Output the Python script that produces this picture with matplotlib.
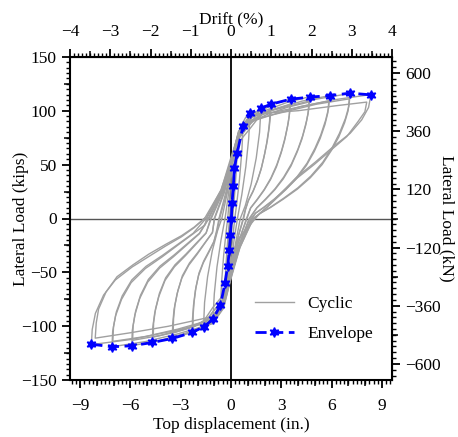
import numpy as np
import matplotlib
matplotlib.use("Agg")
import matplotlib.pyplot as plt
from matplotlib.ticker import MultipleLocator, FixedLocator, NullFormatter

plt.rcParams['font.family'] = ['Liberation Serif', 'DejaVu Serif']

# envelope (in., kips)
env_x = [-8.33, -7.1, -5.92, -4.69, -3.5, -2.31, -1.64, -1.08, -0.63, -0.36, -0.2, -0.1, -0.04,
         0.02, 0.06, 0.14, 0.2, 0.36, 0.72, 1.14, 1.78, 2.37, 3.55, 4.69, 5.88, 7.1, 8.34]
env_y = [-116.6, -119, -118.1, -115, -111.3, -105.7, -100.5, -93.6, -80.3, -59.6, -44, -29.3, -15.3,
         0, 14.7, 30.2, 46.6, 60.5, 86, 97.7, 102.3, 106, 110.7, 112.6, 114, 116.3, 114.7]

# cyclic loops, one list per cycle
c01_x = [0, 0.1, 0.2, 0.16, 0.1, 0.04, -0.05, -0.12, -0.2, -0.15, -0.09, -0.04]
c01_y = [0, 25, 47, 30, 14, 0, -15, -30, -44, -28, -12, 0]
c02_x = [-0.04, 0.04, 0.14, 0.25, 0.36, 0.3, 0.2, 0.09, 0.0, -0.1, -0.22, -0.36, -0.3, -0.2, -0.09]
c02_y = [0, 17, 34, 48, 60, 42, 20, 0, -18, -33, -48, -60, -42, -20, 0]
c03_x = [-0.09, -0.02, 0.08, 0.2, 0.38, 0.55, 0.72, 0.64, 0.5, 0.34, 0.22,
         0.1, -0.02, -0.15, -0.32, -0.48, -0.63, -0.56, -0.44, -0.3, -0.2]
c03_y = [0, 18, 36, 52, 68, 79, 86, 62, 36, 14, 0,
         -18, -36, -52, -66, -75, -80, -58, -34, -13, 0]
c04_x = [-0.2, -0.09, 0.02, 0.15, 0.35, 0.6, 0.88, 1.14, 1.05, 0.88, 0.64, 0.38,
         0.18, 0.02, -0.14, -0.35, -0.6, -0.85, -1.08, -1.0, -0.84, -0.6, -0.36]
c04_y = [0, 20, 40, 58, 74, 86, 94, 98, 74, 48, 22, 0,
         -20, -40, -58, -73, -84, -90, -94, -70, -45, -20, 0]
c05_x = [-0.36, -0.16, 0.0, 0.2, 0.5, 0.9, 1.35, 1.78, 1.7, 1.5, 1.2, 0.85, 0.55,
         0.28, 0.05, -0.15, -0.45, -0.85, -1.25, -1.64, -1.58, -1.4, -1.12, -0.8, -0.55]
c05_y = [0, 22, 44, 64, 80, 90, 97, 102, 80, 56, 32, 12, 0,
         -22, -44, -62, -78, -89, -96, -100, -78, -54, -30, -11, 0]
c06_x = [-0.55, -0.22, 0.03, 0.45, 1.1, 1.7, 2.37,
         2.35, 2.28, 2.16, 2.01, 1.82, 1.59, 1.33, 1.04, 0.84, 0.72,
         0.29, -0.03, -0.45, -1.1, -1.65, -2.31,
         -2.3, -2.24, -2.13, -1.94, -1.66, -1.34, -1.04, -0.82, -0.68]
c06_y = [0, 24.4, 50.9, 74.2, 86.9, 99.6, 106,
         95.4, 84.8, 72.1, 60.4, 47.7, 36, 26, 17, 8, 0,
         -24.4, -50.9, -74.2, -86.9, -99.6, -106,
         -93.3, -80.6, -66.8, -53, -41.3, -31.8, -22.3, -11, 0]
c07_x = [-0.68, -0.27, 0.03, 0.45, 1.1, 1.7, 2.32,
         2.3, 2.23, 2.11, 1.97, 1.79, 1.55, 1.3, 1.02, 0.86, 0.75,
         0.3, -0.03, -0.45, -1.1, -1.62, -2.27,
         -2.26, -2.2, -2.09, -1.91, -1.63, -1.32, -1.02, -0.85, -0.72]
c07_y = [0, 23.2, 48.5, 70.7, 82.8, 94.9, 101,
         90.9, 80.8, 68.7, 57.6, 45.5, 34.3, 24.7, 16.2, 8, 0,
         -23.2, -48.5, -70.7, -82.8, -94.9, -101,
         -88.9, -76.8, -63.6, -50.5, -39.4, -30.3, -21.2, -10.5, 0]
c08_x = [-0.72, -0.29, 0.03, 0.45, 1.1, 1.6, 2.56, 3.55,
         3.51, 3.41, 3.23, 3.02, 2.73, 2.38, 1.99, 1.56, 1.17, 0.92,
         0.37, -0.03, -0.45, -1.1, -1.58, -2.52, -3.5,
         -3.48, -3.4, -3.22, -2.94, -2.52, -2.03, -1.58, -1.12, -0.98]
c08_y = [0, 25.5, 53.3, 77.7, 91, 98.8, 106, 111,
         99.9, 88.8, 75.5, 63.3, 50, 37.7, 27.2, 17.8, 10, 0,
         -25.5, -53.3, -77.7, -91, -99.9, -106.6, -111,
         -97.7, -84.4, -69.9, -55.5, -43.3, -33.3, -23.3, -13.3, 0]
c09_x = [-0.98, -0.39, 0.03, 0.45, 1.1, 1.58, 2.52, 3.5,
         3.47, 3.36, 3.19, 2.98, 2.7, 2.35, 1.96, 1.54, 1.16, 0.95,
         0.38, -0.03, -0.45, -1.1, -1.55, -2.48, -3.45,
         -3.43, -3.35, -3.17, -2.9, -2.48, -2.0, -1.55, -1.1, -1.0]
c09_y = [0, 24.4, 50.9, 74.2, 86.9, 94.3, 101.2, 106,
         95.4, 84.8, 72.1, 60.4, 47.7, 36, 26, 17, 9.5, 0,
         -24.4, -50.9, -74.2, -86.9, -95.4, -101.8, -106,
         -93.3, -80.6, -66.8, -53, -41.3, -31.8, -22.3, -12.7, 0]
c10_x = [-1.0, -0.4, 0.03, 0.45, 1.1, 2.11, 3.38, 4.69,
         4.64, 4.5, 4.27, 3.99, 3.61, 3.14, 2.63, 2.06, 1.55, 1.08,
         0.43, -0.03, -0.45, -1.1, -2.11, -3.38, -4.69,
         -4.67, -4.55, -4.31, -3.94, -3.38, -2.72, -2.11, -1.5, -1.18]
c10_y = [0, 26, 54.2, 79.1, 92.7, 100.6, 107.9, 113,
         101.7, 90.4, 76.8, 64.4, 50.9, 38.4, 27.7, 18.1, 10.2, 0,
         -26.5, -55.2, -80.5, -94.3, -103.5, -110.4, -115,
         -101.2, -87.4, -72.5, -57.5, -44.9, -34.5, -24.2, -13.8, 0]
c11_x = [-1.18, -0.47, 0.03, 0.45, 1.1, 2.09, 3.34, 4.64,
         4.59, 4.45, 4.22, 3.94, 3.57, 3.11, 2.6, 2.04, 1.53, 1.12,
         0.45, -0.03, -0.45, -1.1, -2.09, -3.34, -4.64,
         -4.62, -4.5, -4.27, -3.9, -3.34, -2.69, -2.09, -1.48, -1.22]
c11_y = [0, 24.8, 51.8, 75.6, 88.6, 96.1, 103.1, 108,
         97.2, 86.4, 73.4, 61.6, 48.6, 36.7, 26.5, 17.3, 9.7, 0,
         -25.3, -52.8, -77, -90.2, -99, -105.6, -110,
         -96.8, -83.6, -69.3, -55, -42.9, -33, -23.1, -13.2, 0]
c12_x = [-1.22, -0.49, 0.03, 0.45, 1.1, 2.65, 4.23, 5.88,
         5.82, 5.64, 5.35, 5.0, 4.53, 3.94, 3.29, 2.59, 1.94, 1.47, 1.2,
         0.48, -0.03, -0.45, -1.1, -2.66, -4.26, -5.92,
         -5.89, -5.74, -5.45, -4.97, -4.26, -3.43, -2.66, -1.89, -1.32]
c12_y = [0, 26.2, 54.7, 79.8, 93.5, 101.5, 108.9, 114,
         102.6, 91.2, 77.5, 65, 51.3, 38.8, 27.9, 18.2, 10.3, 5.1, 0,
         -27.1, -56.6, -82.6, -96.8, -106.2, -113.3, -118,
         -103.8, -89.7, -74.3, -59, -46, -35.4, -24.8, -14.2, 0]
c13_x = [-1.32, -0.53, 0.03, 0.45, 1.1, 2.62, 4.2, 5.83,
         5.77, 5.6, 5.31, 4.96, 4.49, 3.91, 3.26, 2.57, 1.92, 1.46, 1.24,
         0.5, -0.03, -0.45, -1.1, -2.64, -4.23, -5.87,
         -5.84, -5.69, -5.4, -4.93, -4.23, -3.4, -2.64, -1.88, -1.36]
c13_y = [0, 25.1, 52.3, 76.3, 89.4, 97, 104.1, 109,
         98.1, 87.2, 74.1, 62.1, 49.1, 37.1, 26.7, 17.4, 9.8, 4.9, 0,
         -26, -54.2, -79.1, -92.7, -101.7, -108.5, -113,
         -99.4, -85.9, -71.2, -56.5, -44.1, -33.9, -23.7, -13.6, 0]
c14_x = [-1.36, -0.54, 0.03, 0.45, 1.1, 3.2, 5.11, 7.1,
         7.03, 6.82, 6.46, 6.04, 5.47, 4.76, 3.98, 3.12, 2.34, 1.78, 1.3,
         0.52, -0.03, -0.45, -1.1, -3.2, -5.11, -7.1,
         -7.06, -6.89, -6.53, -5.96, -5.11, -4.12, -3.2, -2.27, -1.56, -1.45]
c14_y = [0, 26.7, 55.7, 81.2, 95.1, 103.2, 110.8, 116,
         104.4, 92.8, 78.9, 66.1, 52.2, 39.4, 28.4, 18.6, 10.4, 5.2, 0,
         -27.4, -57.1, -83.3, -97.6, -107.1, -114.2, -119,
         -104.7, -90.4, -75, -59.5, -46.4, -35.7, -25, -14.3, -6, 0]
c15_x = [-1.45, -0.58, 0.03, 0.45, 1.1, 3.17, 5.08, 7.05,
         6.98, 6.77, 6.42, 5.99, 5.43, 4.72, 3.95, 3.1, 2.33, 1.76, 1.34,
         0.54, -0.03, -0.45, -1.1, -3.17, -5.08, -7.05,
         -7.01, -6.84, -6.49, -5.92, -5.08, -4.09, -3.17, -2.26, -1.5]
c15_y = [0, 25.5, 53.3, 77.7, 91, 98.8, 106, 111,
         99.9, 88.8, 75.5, 63.3, 50, 37.7, 27.2, 17.8, 10, 5, 0,
         -26.2, -54.7, -79.8, -93.5, -102.6, -109.4, -114,
         -100.3, -86.6, -71.8, -57, -44.5, -34.2, -23.9, -13.7, 0]
c16_x = [-1.5, -0.6, 0.03, 0.45, 1.1, 3.75, 6.0, 8.34,
         8.2, 7.79, 7.1, 6.1, 5.0, 3.95, 3.0, 2.17, 1.7, 1.4,
         0.39, -0.1, -0.45, -1.1, -3.75, -6.0, -8.33,
         -8.28, -8.09, -7.6, -6.9, -5.9, -4.93, -3.9, -2.96, -2.2, -1.58]
c16_y = [0, 26.5, 55.2, 80.5, 94.3, 102.4, 109.8, 115,
         103, 91.5, 79, 66.7, 52, 38.8, 24, 11, 4.5, 0,
         -20, -45, -81.9, -95.9, -105.3, -112.3, -117,
         -103, -88, -71, -57, -45, -35.5, -25.5, -17, -8.5, 0]
c17_x = [-1.58, -0.59, 0.0, 0.59, 1.97, 4.0, 6.2, 8.09,
         7.98, 7.57, 6.9, 6.0, 4.95, 3.9, 3.0, 2.15, 1.7, 1.45,
         0.4, -0.1, -0.45, -1.1, -3.75, -6.0, -8.1,
         -8.04, -7.9, -7.45, -6.8, -5.85, -4.9, -3.9, -2.96, -2.2, -1.6]
c17_y = [0, 26.5, 57, 85, 97.7, 100, 104.5, 108,
         99, 89.9, 76, 64, 50, 37, 23, 10.5, 4.5, 0,
         -20, -44, -78, -91, -100, -106, -111,
         -97, -84, -68, -54, -43, -33, -24, -16, -8, 0]

cycles = [(c01_x, c01_y), (c02_x, c02_y), (c03_x, c03_y), (c04_x, c04_y), (c05_x, c05_y),
          (c06_x, c06_y), (c07_x, c07_y), (c08_x, c08_y), (c09_x, c09_y), (c10_x, c10_y),
          (c11_x, c11_y), (c12_x, c12_y), (c13_x, c13_y), (c14_x, c14_y), (c15_x, c15_y),
          (c16_x, c16_y), (c17_x, c17_y)]

fig = plt.figure(figsize=(4.58, 4.37), dpi=100)
ax = fig.add_axes([0.153, 0.130, 0.703, 0.740])

ax.axhline(0, color='#555555', lw=1.0, zorder=1)
ax.axvline(0, color='black', lw=1.3, zorder=1)

for i, (cx, cy) in enumerate(cycles):
    ax.plot(cx, cy, color='#a0a0a0', lw=1.0, zorder=2, label='Cyclic' if i == 0 else None)

ax.plot(env_x, env_y, color='blue', lw=2.0, ls=(0, (4, 2)), marker=(6, 1, 0), ms=7,
        zorder=3, label='Envelope')

ax.set_xlim(-9.6, 9.6)
ax.set_ylim(-150, 150)
for s in ax.spines.values():
    s.set_linewidth(1.5)

fs = 12.5
ax.xaxis.set_major_locator(MultipleLocator(3))
ax.xaxis.set_minor_locator(MultipleLocator(0.25))
ax.yaxis.set_major_locator(MultipleLocator(50))
ax.yaxis.set_minor_locator(MultipleLocator(5))
ax.tick_params(which='major', direction='out', length=6, width=1.3, labelsize=fs)
ax.tick_params(axis='x', which='major', pad=7)
ax.tick_params(which='minor', direction='out', length=3, width=1.0)
ax.set_xlabel('Top displacement (in.)', fontsize=fs, labelpad=2)
ax.set_ylabel('Lateral Load (kips)', fontsize=fs, labelpad=-6)

# drift axis on top (height 240 in.)
to_drift = (lambda x: x / 2.4, lambda d: d * 2.4)
top = ax.secondary_xaxis('top', functions=to_drift)
top.xaxis.set_major_locator(MultipleLocator(1))
top.xaxis.set_minor_locator(MultipleLocator(0.1))
top.tick_params(which='major', direction='out', length=6, width=1.3, labelsize=fs, pad=6)
top.tick_params(which='minor', direction='out', length=3, width=1.0)
top.set_xlabel('Drift (%)', fontsize=fs, labelpad=0)

# kN axis on right
to_kn = (lambda k: k * 4.448, lambda n: n / 4.448)
right = ax.secondary_yaxis('right', functions=to_kn)
right.yaxis.set_major_locator(FixedLocator([-600, -360, -120, 120, 360, 600]))
right.yaxis.set_minor_locator(MultipleLocator(24))
right.tick_params(which='major', direction='out', length=6, width=1.3, labelsize=fs)
right.tick_params(which='minor', direction='out', length=3, width=1.0)
fig.text(447 / 458, 0.5, 'Lateral Load (kN)', fontsize=fs, rotation=270, ha='center', va='center')

# medium-length ticks between the labelled ones
def mid_ticks(sec, axis, ticks):
    a = sec.xaxis if axis == 'x' else sec.yaxis
    a.set_major_locator(FixedLocator(ticks))
    a.set_major_formatter(NullFormatter())
    a.set_minor_locator(FixedLocator([]))
    sec.tick_params(which='major', direction='out', length=4.5, width=1.1)
    for sp in sec.spines.values():
        sp.set_visible(False)

mid_ticks(ax.secondary_yaxis('left'), 'y', [-125, -75, -25, 25, 75, 125])
mid_ticks(ax.secondary_xaxis('bottom'), 'x', [-8, -7, -5, -4, -2, -1, 1, 2, 4, 5, 7, 8])
mid_ticks(ax.secondary_xaxis('top', functions=to_drift), 'x', [-3.5, -2.5, -1.5, -0.5, 0.5, 1.5, 2.5, 3.5])
mid_ticks(ax.secondary_yaxis('right', functions=to_kn), 'y', [-480, -240, 0, 240, 480])

leg = ax.legend(loc='lower right', frameon=False, fontsize=fs, handlelength=2.2,
                bbox_to_anchor=(0.99, 0.07), labelspacing=0.8)

fig.savefig('out.png', dpi=100)
